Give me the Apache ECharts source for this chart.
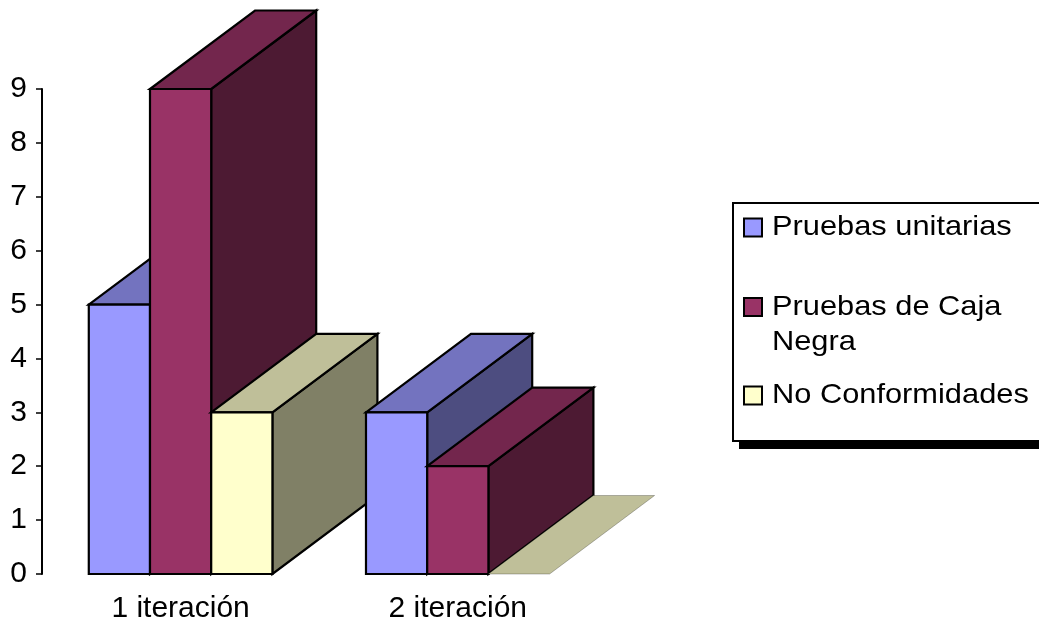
<!DOCTYPE html>
<html>
<head>
<meta charset="utf-8">
<title>Pruebas por iteración</title>
<script src="https://cdn.jsdelivr.net/npm/echarts@6/dist/echarts.min.js"></script>
<style>
  html, body { margin: 0; padding: 0; background: #fff; }
  #chart { width: 1039px; height: 625px; }
</style>
</head>
<body>
<div id="chart"></div>
<script>
// Data
const categories = ['1 iteración', '2 iteración'];
const seriesNames = ['Pruebas unitarias', 'Pruebas de Caja Negra', 'No Conformidades'];
const pruebasUnitarias = [5, 3];
const pruebasCajaNegra = [9, 2];
const noConformidades = [3, 0];
const seriesValues = [pruebasUnitarias, pruebasCajaNegra, noConformidades];

// Face colours for each series: front, top, side
const palette = [
  { front: '#9999FF', top: '#7373BF', side: '#4D4D80' },
  { front: '#993366', top: '#73264D', side: '#4D1A33' },
  { front: '#FFFFCC', top: '#BFBF99', side: '#808066' }
];

const FONT = '"Liberation Sans", Arial, sans-serif';
const BAR_FRACTION = 0.2208;   // width of one bar relative to a category slot
const DX = 105, DY = -78.5;    // depth offset of the 3D blocks

// Drawing order: category by category, series by series, so nearer blocks overlap farther ones
const blocks = [];
categories.forEach((cat, c) => {
  seriesValues.forEach((vals, s) => blocks.push([c, s, vals[c]]));
});

function renderBlock(params, api) {
  const c = api.value(0), s = api.value(1), v = api.value(2);
  const base = api.coord([c, 0]);
  const top = api.coord([c, v]);
  const bw = api.size([1, 0])[0] * BAR_FRACTION;
  const x0 = base[0] - bw * seriesNames.length / 2 + s * bw;
  const x1 = x0 + bw;
  const yb = base[1], yt = top[1];
  const pal = palette[s];
  const edge = { stroke: '#000', lineWidth: 2.2, lineJoin: 'miter' };
  const children = [];
  if (v > 0) {
    children.push({
      type: 'polygon',
      shape: { points: [[x1, yt], [x1 + DX, yt + DY], [x1 + DX, yb + DY], [x1, yb]] },
      style: Object.assign({ fill: pal.side }, edge)
    });
    children.push({
      type: 'polygon',
      shape: { points: [[x0, yt], [x1, yt], [x1 + DX, yt + DY], [x0 + DX, yt + DY]] },
      style: Object.assign({ fill: pal.top }, edge)
    });
    children.push({
      type: 'rect',
      shape: { x: x0, y: yt, width: bw, height: yb - yt },
      style: Object.assign({ fill: pal.front }, edge)
    });
  } else {
    children.push({
      type: 'polygon',
      shape: { points: [[x0, yb], [x1, yb], [x1 + DX, yb + DY], [x0 + DX, yb + DY]] },
      style: { fill: pal.top, stroke: 'rgba(0,0,0,0.25)', lineWidth: 1 }
    });
  }
  return { type: 'group', children };
}

// Legend box with drop shadow
const legendBox = { x: 733, y: 203, width: 320, height: 238 };
const legendRows = [227.5, 307, 395.5];   // vertical centre of each entry's first line
const legendLineHeight = 35;
const legendGraphics = [
  { type: 'rect', z: 10, shape: { x: legendBox.x + 6, y: legendBox.y + 6, width: legendBox.width, height: legendBox.height + 2 },
    style: { fill: '#000' } },
  { type: 'rect', z: 11, shape: legendBox, style: { fill: '#fff', stroke: '#000', lineWidth: 2 } }
];
seriesNames.forEach((name, i) => {
  const cy = legendRows[i];
  legendGraphics.push({
    type: 'rect', z: 12,
    shape: { x: 744, y: cy - 9, width: 18, height: 18 },
    style: { fill: palette[i].front, stroke: '#000', lineWidth: 2 }
  });
  legendGraphics.push({
    type: 'text', z: 12,
    x: 772, y: cy - legendLineHeight / 2, scaleX: 1.1,
    style: {
      text: name, x: 0, y: 0,
      font: '28px ' + FONT, fill: '#000',
      width: 240, overflow: 'break', lineHeight: legendLineHeight,
      align: 'left', verticalAlign: 'top'
    }
  });
});

const chart = echarts.init(document.getElementById('chart'), null, { renderer: 'canvas' });
chart.setOption({
  animation: false,
  backgroundColor: '#fff',
  grid: { left: 42, right: 442.6, top: 89, bottom: 51, containLabel: false },
  xAxis: {
    type: 'category',
    data: categories,
    axisLine: { show: false },
    axisTick: { show: false },
    axisLabel: { color: '#000', fontSize: 30, fontFamily: FONT, margin: 20 }
  },
  yAxis: {
    type: 'value',
    min: 0, max: 9, interval: 1,
    axisLine: { show: true, lineStyle: { color: '#000', width: 2 } },
    axisTick: { show: true, length: 6, lineStyle: { color: '#000', width: 1.5 } },
    splitLine: { show: false },
    axisLabel: { color: '#000', fontSize: 30, fontFamily: FONT, margin: 15 }
  },
  series: [{
    type: 'custom',
    clip: false,
    renderItem: renderBlock,
    encode: { x: 0, y: 2 },
    data: blocks
  }],
  graphic: legendGraphics
});
</script>
</body>
</html>
